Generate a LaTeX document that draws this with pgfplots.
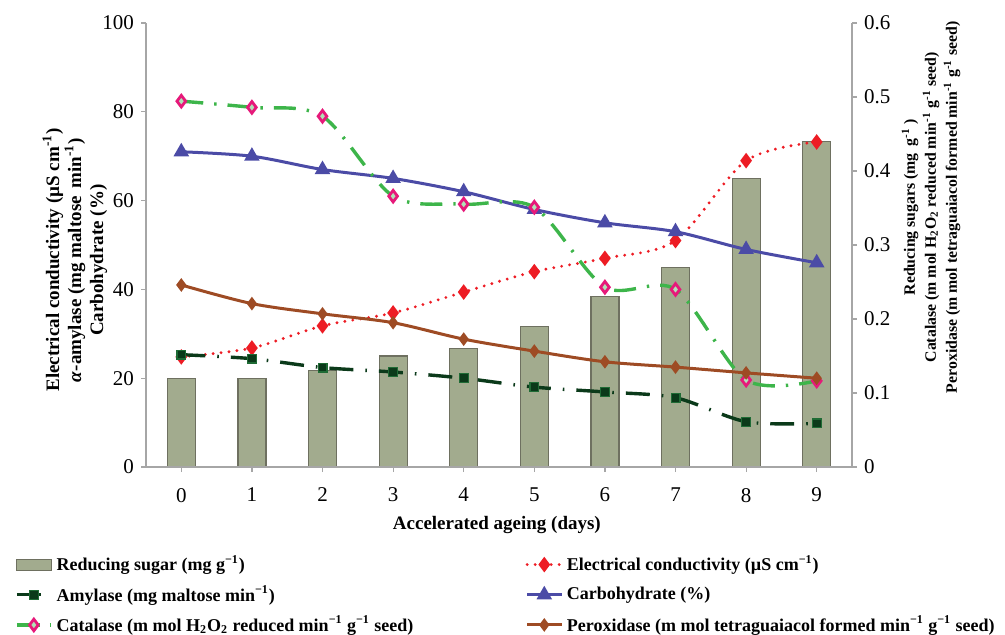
\documentclass[border=0pt]{standalone}
\usepackage{fontspec}
\setmainfont{Liberation Serif}
\usepackage{pgfplots}
\pgfplotsset{compat=1.18}
\definecolor{barfill}{HTML}{A2AB8E}
\definecolor{bardraw}{HTML}{6E7060}
\definecolor{ecred}{HTML}{ED1C24}
\definecolor{amyl}{HTML}{0B3A1A}
\definecolor{amylm}{HTML}{1F6B35}
\definecolor{carb}{HTML}{4B4BA6}
\definecolor{catgreen}{HTML}{3DB54A}
\definecolor{catpink}{HTML}{E6197A}
\definecolor{perox}{HTML}{9E4B24}
\definecolor{axgray}{HTML}{A6A6A6}
\pgfplotsset{
  common/.style={
    scale only axis, width=353pt, height=222pt,
    xmin=-0.5, xmax=9.5,
    tick align=outside, major tick length=2.5pt,
    axis line style={draw=axgray, line width=0.6pt},
    every tick/.style={draw=axgray, line width=0.6pt},
    tick label style={font=\fontsize{10.5}{12}\selectfont},
    /pgf/number format/assume math mode=true,
    label style={font=\bfseries\fontsize{9.5}{11}\selectfont, align=center},
  }
}
\begin{document}
\begin{tikzpicture}
\begin{axis}[common, name=ax2,
  axis y line*=right, axis x line=none,
  ymin=0, ymax=0.6, ytick={0,0.1,0.2,0.3,0.4,0.5,0.6},
  yticklabel style={/pgf/number format/fixed},
  ylabel={Reducing sugars (mg\, g\textsuperscript{-1} )\\Catalase (m mol H\textsubscript{2}O\textsubscript{2} reduced min\textsuperscript{-1} g\textsuperscript{-1} seed)\\Peroxidase (m mol tetraguaiacol formed min\textsuperscript{-1} g\textsuperscript{-1} seed)},
  ylabel style={at={(axis description cs:1.112,0.585)}, anchor=center, font=\bfseries\fontsize{7.9}{10.5}\selectfont},
]
\addplot[ybar, bar width=14pt, fill=barfill, draw=bardraw, line width=0.6pt] coordinates {
 (0,0.12) (1,0.12) (2,0.13) (3,0.15) (4,0.16) (5,0.19) (6,0.23) (7,0.27) (8,0.39) (9,0.44)};
\end{axis}
\begin{axis}[common, name=ax,
  axis y line*=left, axis x line*=bottom,
  ymin=0, ymax=100, ytick={0,20,40,60,80,100},
  xtick={0,1,...,9},
  xticklabel style={yshift=-4.5pt},
  xlabel={Accelerated ageing (days)},
  ylabel={Electrical conductivity (µS cm\textsuperscript{-1})\\\textit{α}-amylase (mg maltose\, min\textsuperscript{-1})\\Carbohydrate (\%)},
  ylabel style={at={(axis description cs:-0.1006,0.466)}, anchor=center},
  xlabel style={at={(axis description cs:0.497,-0.13)}, anchor=center},
  legend columns=2,
  legend style={at={(axis description cs:-0.1945,-0.18)}, anchor=north west, draw=none, fill=none,
    font=\bfseries\fontsize{9}{11}\selectfont, cells={anchor=west}, row sep=1.8pt,
    /tikz/every even column/.append style={column sep=0pt}},
]
\addlegendimage{area legend, fill=barfill, draw=bardraw}
\addlegendentry{\makebox[232.5pt][l]{Reducing sugar (mg g\textsuperscript{−1})}}
\addplot[ecred, line width=1.6pt, line cap=round, dash pattern=on 0pt off 4pt, smooth,
  mark=diamond*, mark size=2.6pt, mark options={solid, fill=ecred}] coordinates {
 (0,24.8) (1,26.8) (2,31.8) (3,34.7) (4,39.4) (5,44) (6,47) (7,51) (8,69) (9,73.2)};
\addlegendentry{Electrical conductivity (µS cm\textsuperscript{−1})}
\addplot[amyl, line width=1.7pt, dash pattern=on 12pt off 6pt on 0.8pt off 6pt, smooth,
  mark=square*, mark size=2.2pt, mark options={solid, fill=amyl, draw=amylm, line width=0.6pt}] coordinates {
 (0,25.3) (1,24.4) (2,22.4) (3,21.4) (4,20) (5,18) (6,16.9) (7,15.6) (8,10.2) (9,9.8)};
\addlegendentry{\makebox[232.5pt][l]{Amylase (mg maltose min\textsuperscript{−1})}}
\addplot[carb, line width=1.5pt, smooth,
  mark=triangle*, mark size=3pt, mark options={solid, fill=carb}] coordinates {
 (0,71) (1,70) (2,67) (3,65) (4,62) (5,58) (6,55) (7,53) (8,49) (9,46)};
\addlegendentry{Carbohydrate (\%)}
\addplot[catgreen, line width=1.7pt, dash pattern=on 11pt off 5.5pt on 1.2pt off 5.5pt, smooth,
  mark=diamond*, mark size=2.9pt, mark options={solid, draw=catpink, fill=catgreen!40!white, line width=1.4pt}] coordinates {
 (0,82.4) (1,81) (2,79) (3,61) (4,59.2) (5,58.5) (6,40.5) (7,40) (8,19.6) (9,19.4)};
\addlegendentry{\makebox[232.5pt][l]{Catalase (m mol H\textsubscript{2}O\textsubscript{2} reduced min\textsuperscript{−1} g\textsuperscript{−1} seed)}}
\addplot[perox, line width=1.5pt, smooth,
  mark=diamond*, mark size=2.2pt, mark options={solid, fill=perox}] coordinates {
 (0,41) (1,36.8) (2,34.5) (3,32.5) (4,28.8) (5,26.1) (6,23.7) (7,22.5) (8,21.2) (9,20)};
\addlegendentry{Peroxidase (m mol tetraguaiacol formed min\textsuperscript{−1} g\textsuperscript{−1} seed)}
\end{axis}
\pgfresetboundingbox
\path ([shift={(-73pt,-83.5pt)}]ax.south west) rectangle ([shift={(429.5pt,233.5pt)}]ax.south west);
\end{tikzpicture}
\end{document}
